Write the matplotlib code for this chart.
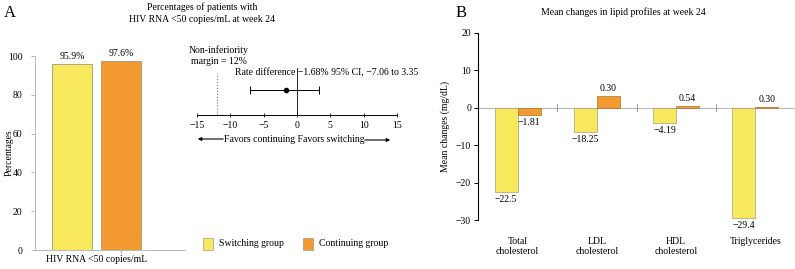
import numpy as np
import matplotlib
matplotlib.use("Agg")
import matplotlib.pyplot as plt

plt.rcParams['font.family'] = ['Liberation Serif', 'DejaVu Serif']
plt.rcParams['font.size'] = 7

# Panel A data
groups = ["Switching group", "Continuing group"]
suppression = [95.9, 97.6]
suppression_labels = ["95.9%", "97.6%"]
rate_diff = -1.68
ci_low, ci_high = -7.06, 3.35
margin = -12

# Panel B data
lipids = ["Total\ncholesterol", "LDL\ncholesterol", "HDL\ncholesterol", "Triglycerides"]
switch_bars = [-22.5, -6.4, -4.19, -29.4]
cont_bars = [-1.81, 3.2, 0.54, 0.30]
switch_labels = ["\u221222.5", "\u221218.25", "\u22124.19", "\u221229.4"]
cont_labels = ["\u22121.81", "0.30", "0.54", "0.30"]

yellow = "#f8e85e"
orange = "#f29a30"
W, H = 795, 269

fig = plt.figure(figsize=(W / 100, H / 100), dpi=100)

def box(x0, y0, x1, y1):
    # pixel box (from top-left) -> figure fraction
    return [x0 / W, 1 - y1 / H, (x1 - x0) / W, (y1 - y0) / H]

def minus(vals):
    return [("\u2212" + str(-t)) if t < 0 else str(t) for t in vals]

# ---- Panel A: bars
axA = fig.add_axes(box(35, 56, 185, 250))
xa = np.array([0, 1])
axA.bar(xa, suppression, width=0.82, color=[yellow, orange], edgecolor="#9a9a7a", linewidth=0.6)
for x, v, s in zip(xa, suppression, suppression_labels):
    axA.text(x, v + 1.5, s, ha="center", va="bottom")
axA.set_xlim(-0.75, 2.3)
axA.set_ylim(0, 100)
axA.set_yticks([0, 20, 40, 60, 80, 100])
axA.set_xticks([])
axA.set_ylabel("Percentages")
axA.yaxis.set_label_coords(-21 / 150, 0.5)
axA.set_xlabel("HIV RNA <50 copies/mL")
axA.xaxis.set_label_coords(0.41, -0.025)
for sp in ["top", "right"]:
    axA.spines[sp].set_visible(False)
for sp in ["left", "bottom"]:
    axA.spines[sp].set_color("#b0b0b0")
    axA.spines[sp].set_linewidth(0.6)
axA.tick_params(axis="y", color="#b0b0b0", length=3, width=0.6, pad=6)
axA.plot([1], [0], transform=axA.get_xaxis_transform(), marker="|", color="#b0b0b0", ms=4, clip_on=False)

# ---- Panel A: forest plot
axF = fig.add_axes(box(197, 55, 397, 115))
axF.errorbar([rate_diff], [0.5], xerr=[[rate_diff - ci_low], [ci_high - rate_diff]],
             fmt="o", color="black", ms=3, capsize=3, elinewidth=0.7, capthick=0.7)
axF.axvline(0, ymin=0, ymax=0.78, color="black", lw=0.6)
axF.axvline(margin, ymin=0, ymax=0.7, color="#5b7fa8", lw=0.8, ls=":")
axF.set_xlim(-15, 15)
axF.set_ylim(0, 1.2)
axF.set_xticks(np.arange(-15, 16, 5))
axF.set_xticklabels(minus(range(-15, 16, 5)))
axF.set_yticks([])
for sp in ["top", "right", "left"]:
    axF.spines[sp].set_visible(False)
axF.spines["bottom"].set_linewidth(0.7)
axF.tick_params(axis="x", length=3, width=0.6, pad=3, direction="inout")
axF.set_facecolor("none")
fig.text(235 / W, 1 - 73 / H, "Rate difference \u22121.68% 95% CI, \u22127.06 to 3.35", ha="left", va="center")
fig.text(189 / W, 1 - 50 / H, "Non-inferiority", ha="left", va="center")
fig.text(191 / W, 1 - 62 / H, "margin = 12%", ha="left", va="center")
fig.text(294 / W, 1 - 139 / H, "Favors continuing Favors switching", ha="center", va="center")
fig.add_artist(matplotlib.patches.FancyArrowPatch((226 / W, 1 - 139 / H), (195 / W, 1 - 139 / H),
               transform=fig.transFigure, arrowstyle="-|>", mutation_scale=5, lw=0.8, color="black"))
fig.add_artist(matplotlib.patches.FancyArrowPatch((362 / W, 1 - 140 / H), (393 / W, 1 - 140 / H),
               transform=fig.transFigure, arrowstyle="-|>", mutation_scale=5, lw=0.8, color="black"))

fig.text(202 / W, 1 - 7 / H, "Percentages of patients with", ha="center", va="center")
fig.text(202 / W, 1 - 19 / H, "HIV RNA <50 copies/mL at week 24", ha="center", va="center")
fig.text(4 / W, 1 - 13 / H, "A", ha="left", va="center", fontsize=12)

# legend
for (x0, lbl, c) in [(203, groups[0], yellow), (303, groups[1], orange)]:
    fig.add_artist(matplotlib.patches.Rectangle((x0 / W, 1 - 250 / H), 10 / W, 12 / H,
                   transform=fig.transFigure, facecolor=c, edgecolor="#a0a080", lw=0.5))
    fig.text((x0 + 16) / W, 1 - 244 / H, lbl, ha="left", va="center")

# ---- Panel B
axB = fig.add_axes(box(478, 33, 795, 220))
xb = np.arange(len(lipids))
bw = 0.29
axB.bar(xb - bw / 2, switch_bars, width=bw, color=yellow, edgecolor="#a0a080", linewidth=0.5)
axB.bar(xb + bw / 2, cont_bars, width=bw, color=orange, edgecolor="#b07030", linewidth=0.5)
for x, v, s in zip(xb, switch_bars, switch_labels):
    axB.text(x - bw / 2, v - 0.8, s, ha="center", va="top")
for x, v, s in zip(xb, cont_bars, cont_labels):
    if v < 0:
        axB.text(x + bw / 2, v - 0.8, s, ha="center", va="top")
    else:
        axB.text(x + bw / 2, v + 0.8, s, ha="center", va="bottom")
axB.axhline(0, color="#b8b8b8", lw=0.8, zorder=0)
for x in xb[:-1] + 0.5:
    axB.plot([x, x], [-0.9, 0.9], color="#999999", lw=0.7)
axB.set_xlim(-0.5, 3.5)
axB.set_ylim(-30, 20)
axB.set_yticks([-30, -20, -10, 0, 10, 20])
axB.set_yticklabels(minus([-30, -20, -10, 0, 10, 20]))
axB.set_xticks(xb)
axB.set_xticklabels(lipids)
axB.tick_params(axis="x", length=0, pad=12)
axB.tick_params(axis="y", length=3, width=0.7, pad=2)
for sp in ["top", "right", "bottom"]:
    axB.spines[sp].set_visible(False)
axB.spines["left"].set_linewidth(0.8)
axB.set_ylabel("Mean changes (mg/dL)", labelpad=4)
axB.set_facecolor("none")
fig.text(623 / W, 1 - 12 / H, "Mean changes in lipid profiles at week 24", ha="center", va="center")
fig.text(456 / W, 1 - 13 / H, "B", ha="left", va="center", fontsize=12)

fig.savefig("out.png", dpi=100)
